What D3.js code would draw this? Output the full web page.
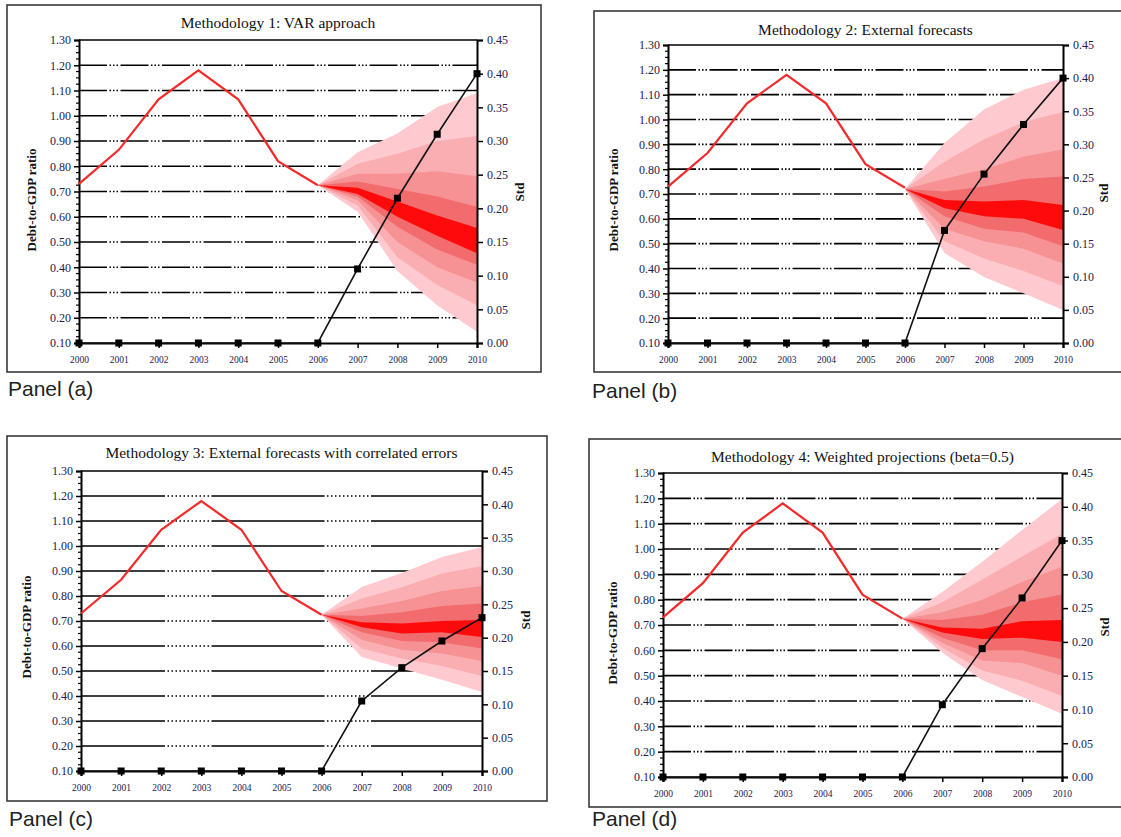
<!DOCTYPE html>
<html>
<head>
<meta charset="utf-8">
<script src="https://cdn.jsdelivr.net/npm/d3@7"></script>
<style>
  html, body { margin: 0; padding: 0; background: #fff; }
  svg { display: block; }
  .tick-lab { font-family: "Liberation Serif", "Times New Roman", serif; fill: #1c2050; }
</style>
</head>
<body>
<svg id="chart" width="1121" height="837"></svg>
<script>
// ---- data ----
const years = [2000, 2001, 2002, 2003, 2004, 2005, 2006, 2007, 2008, 2009, 2010];
const histYears = [2000, 2001, 2002, 2003, 2004, 2005, 2006];
const debtRatio = [0.73, 0.865, 1.065, 1.18, 1.065, 0.82, 0.725];
const fanYears = [2006, 2007, 2008, 2009, 2010];

const leftTicks = [0.10, 0.20, 0.30, 0.40, 0.50, 0.60, 0.70, 0.80, 0.90, 1.00, 1.10, 1.20, 1.30];
const rightTicks = [0.00, 0.05, 0.10, 0.15, 0.20, 0.25, 0.30, 0.35, 0.40, 0.45];

const titles = [
  "Methodology 1: VAR approach",
  "Methodology 2: External forecasts",
  "Methodology 3: External forecasts with correlated errors",
  "Methodology 4: Weighted projections (beta=0.5)"
];
const panelNames = ["Panel (a)", "Panel (b)", "Panel (c)", "Panel (d)"];

// std of forecast (right axis)
const stdA = [0, 0, 0, 0, 0, 0, 0, 0.11, 0.215, 0.31, 0.40];
const stdB = [0, 0, 0, 0, 0, 0, 0, 0.17, 0.255, 0.33, 0.40];
const stdC = [0, 0, 0, 0, 0, 0, 0, 0.105, 0.155, 0.195, 0.23];
const stdD = [0, 0, 0, 0, 0, 0, 0, 0.107, 0.19, 0.265, 0.35];

// fan quantile edges, low -> high (5,15,...,95 pct), columns = fanYears
const fanA = [
  [0.725, 0.62, 0.385, 0.25, 0.145],
  [0.725, 0.645, 0.44, 0.33, 0.25],
  [0.725, 0.665, 0.50, 0.40, 0.34],
  [0.725, 0.68, 0.56, 0.47, 0.41],
  [0.725, 0.69, 0.60, 0.525, 0.455],
  [0.725, 0.715, 0.66, 0.605, 0.555],
  [0.725, 0.74, 0.71, 0.68, 0.64],
  [0.725, 0.77, 0.77, 0.78, 0.76],
  [0.725, 0.81, 0.85, 0.90, 0.92],
  [0.725, 0.855, 0.93, 1.035, 1.09]
];
const fanB = [
  [0.72, 0.462, 0.366, 0.30, 0.233],
  [0.72, 0.51, 0.44, 0.39, 0.33],
  [0.72, 0.56, 0.51, 0.48, 0.42],
  [0.72, 0.61, 0.56, 0.545, 0.49],
  [0.72, 0.643, 0.61, 0.60, 0.555],
  [0.72, 0.676, 0.67, 0.676, 0.656],
  [0.72, 0.71, 0.73, 0.76, 0.77],
  [0.72, 0.76, 0.80, 0.85, 0.88],
  [0.72, 0.83, 0.92, 0.99, 1.03],
  [0.72, 0.905, 1.04, 1.12, 1.167]
];
const fanC = [
  [0.725, 0.556, 0.51, 0.465, 0.416],
  [0.725, 0.59, 0.55, 0.52, 0.48],
  [0.725, 0.625, 0.585, 0.57, 0.54],
  [0.725, 0.655, 0.62, 0.615, 0.59],
  [0.725, 0.675, 0.65, 0.655, 0.636],
  [0.725, 0.695, 0.69, 0.70, 0.704],
  [0.725, 0.72, 0.735, 0.76, 0.77],
  [0.725, 0.75, 0.78, 0.82, 0.84],
  [0.725, 0.79, 0.835, 0.89, 0.92],
  [0.725, 0.836, 0.892, 0.956, 0.996]
];
const fanD = [
  [0.725, 0.59, 0.483, 0.416, 0.35],
  [0.725, 0.61, 0.52, 0.48, 0.42],
  [0.725, 0.63, 0.56, 0.55, 0.50],
  [0.725, 0.65, 0.60, 0.60, 0.565],
  [0.725, 0.67, 0.645, 0.65, 0.633],
  [0.725, 0.69, 0.685, 0.715, 0.72],
  [0.725, 0.72, 0.74, 0.79, 0.82],
  [0.725, 0.75, 0.80, 0.87, 0.93],
  [0.725, 0.79, 0.88, 0.97, 1.06],
  [0.725, 0.83, 0.95, 1.075, 1.197]
];

// outer -> centre
const fanColors = ["#FFCACF", "#FAAEB1", "#F69194", "#F26B6D", "#FF0A0A"];

// ---- layout of the four panels ----
const dashABD = [28, 2.5, 1.5, 2, 1.5, 2, 1.5, 2.5];
const dashC = [113, 2.5].concat(d3.range(11).flatMap(() => [1.5, 2.5]));

const panels = [
  { frame: [7, 5, 541, 372], x0: 79, x1: 477, yT: 40, yB: 343, titleY: 28, ylabX: 33, ylabY: 200, stdX: 521, stdY: 192, pX: 8, pY: 396,
    std: stdA, fan: fanA, dash: dashABD, dashOff: 0 },
  { frame: [594, 11, 1135, 372], x0: 668, x1: 1063, yT: 45, yB: 343, titleY: 35, ylabX: 615, ylabY: 200, stdX: 1105, stdY: 193, pX: 592, pY: 398,
    std: stdB, fan: fanB, dash: dashABD, dashOff: 0 },
  { frame: [7, 436, 547, 801], x0: 81, x1: 482, yT: 471, yB: 771, titleY: 458, ylabX: 28, ylabY: 627, stdX: 527, stdY: 620, pX: 9, pY: 826,
    std: stdC, fan: fanC, dash: dashC, dashOff: 29 },
  { frame: [589, 439, 1135, 807], x0: 663, x1: 1062, yT: 473, yB: 777, titleY: 462, ylabX: 614, ylabY: 633, stdX: 1106, stdY: 627, pX: 592, pY: 826,
    std: stdD, fan: fanD, dash: dashABD, dashOff: 0 }
];

const svg = d3.select("#chart");

panels.forEach((p, idx) => {
  const g = svg.append("g");
  const [fx0, fy0, fx1, fy1] = p.frame;

  g.append("rect")
    .attr("x", fx0).attr("y", fy0)
    .attr("width", fx1 - fx0).attr("height", fy1 - fy0)
    .attr("fill", "none").attr("stroke", "#3a3a3a").attr("stroke-width", 1.6);

  const x = d3.scaleLinear().domain([2000, 2010]).range([p.x0, p.x1]);
  const y = d3.scaleLinear().domain([0.10, 1.30]).range([p.yB, p.yT]);
  const y2 = d3.scaleLinear().domain([0, 0.45]).range([p.yB, p.yT]);

  // gridlines
  g.append("g").selectAll("line")
    .data(leftTicks.filter(v => v > 0.15 && v < 1.25))
    .join("line")
      .attr("x1", p.x0).attr("x2", p.x1)
      .attr("y1", d => y(d)).attr("y2", d => y(d))
      .attr("stroke", "#000").attr("stroke-width", 1.7)
      .attr("stroke-dasharray", p.dash.join(","))
      .attr("stroke-dashoffset", p.dashOff);

  // fan
  const area = d3.area()
    .x((d, i) => x(fanYears[i]))
    .y0(d => y(d[0]))
    .y1(d => y(d[1]));
  const n = p.fan.length;
  for (let k = 0; k < n / 2; k++) {
    const lo = p.fan[k], hi = p.fan[n - 1 - k];
    g.append("path")
      .datum(lo.map((v, i) => [v, hi[i]]))
      .attr("d", area)
      .attr("fill", fanColors[k]);
  }

  // left axis
  const ax = d3.axisLeft(y).tickValues(leftTicks).tickFormat(d3.format(".2f")).tickSize(5).tickPadding(3);
  const gl = g.append("g").attr("transform", `translate(${p.x0},0)`).call(ax);
  gl.select(".domain").attr("stroke-width", 2);
  gl.selectAll(".tick line").attr("stroke-width", 1.5);
  gl.selectAll("text").attr("class", "tick-lab").style("font-size", "12px");
  // minor ticks
  g.append("g").selectAll("line")
    .data(d3.range(0.125, 1.30, 0.025).filter(v => Math.abs((v * 10) - Math.round(v * 10)) > 0.01))
    .join("line")
      .attr("x1", p.x0 - 3).attr("x2", p.x0)
      .attr("y1", d => y(d)).attr("y2", d => y(d))
      .attr("stroke", "#000").attr("stroke-width", 1.2);

  // right axis
  const ar = d3.axisRight(y2).tickValues(rightTicks).tickFormat(d3.format(".2f")).tickSize(6).tickPadding(4);
  const gr = g.append("g").attr("transform", `translate(${p.x1},0)`).call(ar);
  gr.select(".domain").attr("stroke-width", 2);
  gr.selectAll(".tick line").attr("stroke-width", 1.5);
  gr.selectAll("text").attr("class", "tick-lab").style("font-size", "12px");

  // bottom axis
  const ab = d3.axisBottom(x).tickValues(years).tickFormat(d3.format("d")).tickSize(5).tickPadding(8);
  const gb = g.append("g").attr("transform", `translate(0,${p.yB})`).call(ab);
  gb.select(".domain").attr("stroke-width", 2.2);
  gb.selectAll(".tick line").attr("stroke-width", 1.5);
  gb.selectAll("text").attr("class", "tick-lab").style("font-size", "9.5px");

  // top border of plot
  g.append("line")
    .attr("x1", p.x0).attr("x2", p.x1)
    .attr("y1", y(1.30)).attr("y2", y(1.30))
    .attr("stroke", "#000").attr("stroke-width", 1.5);

  // debt-to-GDP history
  g.append("path")
    .datum(debtRatio)
    .attr("d", d3.line().x((d, i) => x(histYears[i])).y(d => y(d)))
    .attr("fill", "none").attr("stroke", "#F42A2A").attr("stroke-width", 2.2);

  // std line
  g.append("path")
    .datum(p.std)
    .attr("d", d3.line().x((d, i) => x(years[i])).y(d => y2(d)))
    .attr("fill", "none").attr("stroke", "#111").attr("stroke-width", 1.6);
  g.append("g").selectAll("rect")
    .data(p.std)
    .join("rect")
      .attr("x", (d, i) => x(years[i]) - 3.5)
      .attr("y", d => y2(d) - 3.5)
      .attr("width", 7).attr("height", 7)
      .attr("fill", "#000");

  // titles and labels
  g.append("text")
    .attr("x", (p.x0 + p.x1) / 2).attr("y", p.titleY)
    .attr("text-anchor", "middle")
    .style("font-family", "'Liberation Serif', 'Times New Roman', serif")
    .style("font-size", "15.5px").attr("fill", "#111")
    .text(titles[idx]);

  g.append("text")
    .attr("transform", `translate(${p.ylabX},${p.ylabY}) rotate(-90)`)
    .attr("text-anchor", "middle").attr("dominant-baseline", "middle")
    .style("font-family", "'Liberation Serif', 'Times New Roman', serif")
    .style("font-size", "13px").style("font-weight", "bold").attr("fill", "#111")
    .text("Debt-to-GDP ratio");

  g.append("text")
    .attr("transform", `translate(${p.stdX},${p.stdY}) rotate(-90)`)
    .attr("text-anchor", "middle").attr("dominant-baseline", "middle")
    .style("font-family", "'Liberation Serif', 'Times New Roman', serif")
    .style("font-size", "13px").style("font-weight", "bold").attr("fill", "#111")
    .text("Std");

  g.append("text")
    .attr("x", p.pX).attr("y", p.pY)
    .style("font-family", "'Liberation Sans', Arial, sans-serif")
    .style("font-size", "21px").attr("fill", "#222")
    .text(panelNames[idx]);
});
</script>
</body>
</html>
